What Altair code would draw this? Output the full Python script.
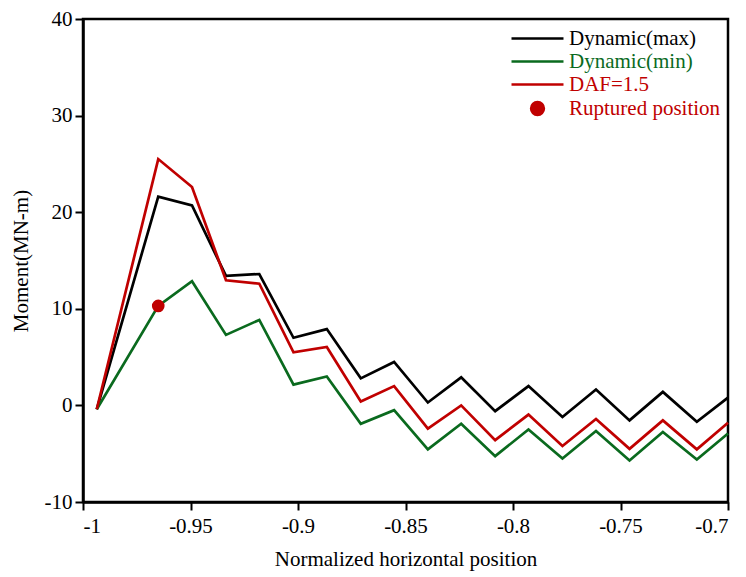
import altair as alt
import pandas as pd

# Data
positions = [-0.9936, -0.965, -0.9493, -0.9335, -0.918, -0.9021, -0.8866, -0.8708,
             -0.8553, -0.8396, -0.8241, -0.8083, -0.7928, -0.777, -0.7614, -0.7458,
             -0.7303, -0.7145, -0.7]
dyn_max = [-0.4, 21.6, 20.7, 13.4, 13.6, 7.0, 7.9, 2.8, 4.5, 0.3, 2.9, -0.6, 2.0,
           -1.2, 1.65, -1.55, 1.4, -1.7, 0.8]
dyn_min = [-0.4, 10.3, 12.85, 7.3, 8.85, 2.15, 3.0, -1.9, -0.5, -4.55, -1.9, -5.25,
           -2.5, -5.5, -2.65, -5.7, -2.75, -5.6, -2.9]
daf = [-0.4, 25.5, 22.6, 12.95, 12.6, 5.5, 6.05, 0.4, 2.0, -2.4, 0.0, -3.6, -0.95,
       -4.2, -1.4, -4.5, -1.55, -4.55, -1.8]
rupture_x = [-0.965]
rupture_y = [10.3]

series_names = ["Dynamic(max)", "Dynamic(min)", "DAF=1.5", "Ruptured position"]
series_colors = ["#000000", "#0a6a1e", "#c00000", "#c00000"]
x_ticks = [-1, -0.95, -0.9, -0.85, -0.8, -0.75, -0.7]
y_ticks = [-10, 0, 10, 20, 30, 40]

rows = []
for name, vals in zip(series_names[:3], [dyn_max, dyn_min, daf]):
    for i, (xv, yv) in enumerate(zip(positions, vals)):
        rows.append({"x": xv, "y": yv, "series": name, "i": i})
lines_df = pd.DataFrame(rows)
pt_df = pd.DataFrame({"x": rupture_x, "y": rupture_y, "series": ["Ruptured position"]})

FONT = "Times New Roman, Liberation Serif, Times, serif"
FS = 21
MINUS = "\u2212"

color_scale = alt.Scale(domain=series_names, range=series_colors)

x_enc = alt.X("x:Q", scale=alt.Scale(domain=[-1, -0.7], nice=False, zero=False),
              axis=alt.Axis(values=x_ticks, title="Normalized horizontal position",
                            format="~g",
                            labelExpr=f"replace(datum.label, '{MINUS}', '-')",
                            tickSize=8, labelPadding=5, titlePadding=12))
y_enc = alt.Y("y:Q", scale=alt.Scale(domain=[-10, 40], nice=False, zero=False),
              axis=alt.Axis(values=y_ticks, title="Moment(MN-m)",
                            format="~g",
                            labelExpr=f"replace(datum.label, '{MINUS}', '-')",
                            tickSize=8, labelPadding=3, titlePadding=13))

legend = alt.Legend(
    title=None, orient="none", legendX=444, legendY=9, padding=0,
    symbolType={"expr": "datum.value == 'Ruptured position' ? 'circle' : 'M-4.11,0H4.11'"},
    symbolSize=160, symbolStrokeWidth=2.7, symbolOpacity=1,
    symbolStrokeColor={"expr": "datum.value == 'Dynamic(max)' ? '#000000' : datum.value == 'Dynamic(min)' ? '#0a6a1e' : '#c00000'"},
    symbolFillColor={"expr": "datum.value == 'Ruptured position' ? '#c00000' : 'transparent'"},
    labelColor={"expr": "datum.value == 'Dynamic(max)' ? '#000000' : datum.value == 'Dynamic(min)' ? '#0a6a1e' : '#c00000'"},
    labelFont=FONT, labelFontSize=FS, labelOffset=21, rowPadding=1.0,
    labelLimit=300,
)

lines = alt.Chart(lines_df).mark_line(strokeWidth=2.7).encode(
    x=x_enc, y=y_enc,
    color=alt.Color("series:N", scale=color_scale, legend=legend),
    order="i:Q",
)

point = alt.Chart(pt_df).mark_point(filled=True, size=160, opacity=1, shape="circle").encode(
    x="x:Q", y="y:Q",
    color=alt.Color("series:N", scale=color_scale, legend=None),
)

chart = alt.layer(lines, point).properties(
    width=645, height=483,
    autosize=alt.AutoSizeParams(type="none"),
    padding={"left": 75, "top": 11, "right": 10, "bottom": 70},
).configure_view(
    stroke="black", strokeWidth=2.5
).configure_axis(
    grid=False, domainColor="black", domainWidth=2.5, tickColor="black", tickWidth=2,
    labelFont=FONT, labelFontSize=FS, labelColor="black",
    titleFont=FONT, titleFontSize=FS, titleFontWeight="normal", titleColor="black",
)

chart.save("out.html", embed_options={"renderer": "svg", "actions": False})
